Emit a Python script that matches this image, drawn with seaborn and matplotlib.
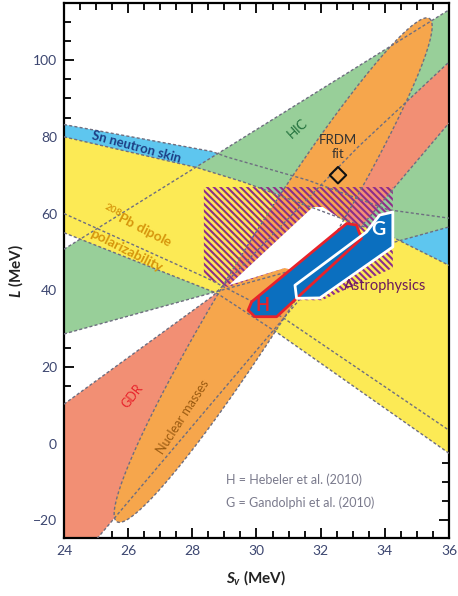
import numpy as np
import matplotlib
matplotlib.use("Agg")
import matplotlib.pyplot as plt
from matplotlib.ticker import MultipleLocator
import seaborn as sns

# Constraint bands in the (S_v, L) plane, MeV.
# Each band is an upper and a lower edge given as knots along S_v.
SN_UPPER_S = [24.0, 28.6, 29.1, 31.6, 34.1, 36.0]
SN_UPPER_L = [83.2, 76.2, 74.7, 68.7, 61.0, 58.8]
SN_LOWER_S = [24.0, 28.45, 30.8, 36.0]
SN_LOWER_L = [60.0, 43.2, 33.0, 3.5]

PB_UPPER_S = [24.0, 28.14, 29.6, 34.3, 36.0]
PB_UPPER_L = [80.0, 72.0, 68.2, 53.6, 46.5]
PB_LOWER_S = [24.0, 28.77, 30.67, 36.0]
PB_LOWER_L = [55.0, 39.2, 28.8, -2.5]

HIC_UPPER_S = [24.0, 36.0]
HIC_UPPER_L = [50.7, 113.1]
HIC_LOWER_S = [24.0, 36.0]
HIC_LOWER_L = [28.6, 56.5]

GDR_UPPER_S = [24.0, 28.64, 33.16, 36.0]
GDR_UPPER_L = [10.3, 38.5, 77.3, 99.5]
GDR_LOWER_S = [24.0, 24.5, 36.0]
GDR_LOWER_L = [-30.0, -30.0, 83.6]

# nuclear masses: ellipse centre and the two half axes (S_v, L)
MASS_CENTER = [30.52, 45.25]
MASS_MAJOR = [4.87, 65.6]
MASS_MINOR = [0.92, -4.8]

# astrophysics (hatched) and the white overlap region
ASTRO_S = [28.36, 34.25, 34.25, 32.04, 31.23, 31.13, 30.88, 29.11, 28.36]
ASTRO_L = [66.9, 66.9, 45.8, 37.4, 37.4, 45.2, 45.8, 40.8, 43.4]
WHITE_S = [29.14, 31.76, 32.07, 32.82, 31.13, 30.88]
WHITE_L = [41.3, 61.7, 61.7, 57.5, 45.2, 45.8]

# neutron matter: H = Hebeler, G = Gandolfi
H_S = [29.74, 29.95, 30.63, 33.27, 33.12, 32.81, 29.85]
H_L = [34.8, 33.1, 33.1, 53.5, 57.0, 57.4, 37.0]
G_S = [31.25, 31.20, 33.43, 33.84, 34.25, 34.25, 31.98]
G_L = [37.9, 41.3, 55.2, 59.6, 60.4, 51.3, 38.0]

FRDM_S = [32.54]
FRDM_L = [70.0]

X_TICKS = [24, 26, 28, 30, 32, 34, 36]
Y_TICKS = [-20, 0, 20, 40, 60, 80, 100]

C_BLUE = "#5ec6ef"
C_YELLOW = "#fcea55"
C_GREEN = "#98cf99"
C_SALMON = "#f28f74"
C_ORANGE = "#f6a64c"
C_HG = "#0b6fbf"
C_HATCH = "#8d2c8c"
C_DASH = "#6e6e80"
C_TICKLAB = "#3c4670"

sns.set_theme(style="ticks")
plt.rcParams["font.family"] = ["Lato", "DejaVu Sans"]
plt.rcParams["hatch.linewidth"] = 1.5
plt.rcParams["mathtext.fontset"] = "custom"
plt.rcParams["mathtext.it"] = "Lato:bold:italic"
plt.rcParams["mathtext.rm"] = "Lato:bold"
plt.rcParams["axes.linewidth"] = 1.6

fig = plt.figure(figsize=(4.58, 5.96), dpi=100)
ax = fig.add_axes([0.1397, 0.0973, 0.8406, 0.8977])


def band_polygon(up_s, up_l, lo_s, lo_l):
    xs = list(up_s) + list(lo_s)[::-1]
    ys = list(up_l) + list(lo_l)[::-1]
    return xs, ys


def dashed(xs, ys, z=6):
    sns.lineplot(x=xs, y=ys, ax=ax, sort=False, estimator=None,
                 color=C_DASH, linewidth=1.0, linestyle=(0, (2.2, 1.6)),
                 zorder=z)


# fills, bottom to top
xs, ys = band_polygon(SN_UPPER_S, SN_UPPER_L, SN_LOWER_S, SN_LOWER_L)
ax.fill(xs, ys, color=C_BLUE, lw=0, zorder=1)
xs, ys = band_polygon(HIC_UPPER_S, HIC_UPPER_L, HIC_LOWER_S, HIC_LOWER_L)
ax.fill(xs, ys, color=C_GREEN, lw=0, zorder=1.1)
xs, ys = band_polygon(GDR_UPPER_S, GDR_UPPER_L, GDR_LOWER_S, GDR_LOWER_L)
ax.fill(xs, ys, color=C_SALMON, lw=0, zorder=1.2)
xs, ys = band_polygon(PB_UPPER_S, PB_UPPER_L, PB_LOWER_S, PB_LOWER_L)
ax.fill(xs, ys, color=C_YELLOW, lw=0, zorder=1.3)

# outline of the nuclear-mass ellipse from its centre and half axes
t = np.linspace(0, 2 * np.pi, 200)
ell_s = MASS_CENTER[0] + MASS_MAJOR[0] * np.cos(t) + MASS_MINOR[0] * np.sin(t)
ell_l = MASS_CENTER[1] + MASS_MAJOR[1] * np.cos(t) + MASS_MINOR[1] * np.sin(t)
ax.fill(ell_s, ell_l, color=C_ORANGE, lw=0, zorder=1.4)

ax.fill(ASTRO_S, ASTRO_L, facecolor="none", edgecolor=C_HATCH, lw=0,
        hatch="\\\\\\\\\\", zorder=2)
ax.fill(WHITE_S, WHITE_L, color="white", lw=0, zorder=3)

# dashed constraint edges
for s, l in [(SN_UPPER_S, SN_UPPER_L), (SN_LOWER_S, SN_LOWER_L),
             (PB_UPPER_S, PB_UPPER_L), (PB_LOWER_S, PB_LOWER_L),
             (HIC_UPPER_S, HIC_UPPER_L), (HIC_LOWER_S, HIC_LOWER_L),
             (GDR_UPPER_S, GDR_UPPER_L), (GDR_LOWER_S[1:], GDR_LOWER_L[1:])]:
    dashed(s, l)
dashed(ell_s, ell_l)

# neutron matter boxes
ax.fill(G_S, G_L, color=C_HG, lw=0, zorder=7)
ax.fill(H_S, H_L, color=C_HG, lw=0, zorder=7)
ax.fill(H_S, H_L, facecolor="none", edgecolor="#e8222b", lw=2.0,
        joinstyle="round", zorder=8)
ax.fill(G_S, G_L, facecolor="none", edgecolor="white", lw=2.0,
        joinstyle="round", zorder=8)

sns.scatterplot(x=FRDM_S, y=FRDM_L, ax=ax, marker="D", s=70,
                color="none", edgecolor="#111111", linewidth=1.5, zorder=9)

# labels on the bands
ax.text(26.24, 77.4, "Sn neutron skin", color="#1d3f85", fontsize=9.5,
        fontweight="bold", rotation=-15, ha="center", va="center", zorder=10)
ax.text(26.3, 56.6, r"$^{208}$Pb dipole", color="#d6960c", fontsize=10,
        fontweight="bold", rotation=-27, ha="center", va="center", zorder=10)
ax.text(25.95, 50.4, "polarizability", color="#d6960c", fontsize=10,
        fontweight="bold", rotation=-27, ha="center", va="center", zorder=10)
ax.text(31.29, 82.3, "HIC", color="#1f6e3a", fontsize=9.5,
        rotation=42, ha="center", va="center", zorder=10)
ax.text(32.54, 79.1, "FRDM", color="#333333", fontsize=9.5,
        ha="center", va="center", zorder=10)
ax.text(32.54, 75.4, "fit", color="#333333", fontsize=9.5,
        ha="center", va="center", zorder=10)
ax.text(34.0, 41.1, "Astrophysics", color="#6d1b5c", fontsize=10.5,
        ha="center", va="center", zorder=10)
ax.text(26.12, 12.4, "GDR", color="#e8242c", fontsize=9,
        rotation=52, ha="center", va="center", zorder=10)
ax.text(27.7, 6.9, "Nuclear masses", color="#9a5a10", fontsize=9,
        rotation=57, ha="center", va="center", zorder=10)
ax.text(30.2, 36.0, "H", color="#e8222b", fontsize=13, fontweight="bold",
        ha="center", va="center", zorder=10)
ax.text(33.81, 55.9, "G", color="white", fontsize=14, fontweight="bold",
        ha="center", va="center", zorder=10)
ax.text(29.05, -9.5, "H = Hebeler et al. (2010)", color="#7a7a8c",
        fontsize=9, ha="left", va="center", zorder=10)
ax.text(29.05, -15.3, "G = Gandolphi et al. (2010)", color="#7a7a8c",
        fontsize=9, ha="left", va="center", zorder=10)

# axes
ax.set_xlim(24, 36)
ax.set_ylim(-24.6, 114.9)
ax.set_xticks(X_TICKS)
ax.set_yticks(Y_TICKS)
ax.xaxis.set_minor_locator(MultipleLocator(0.5))
ax.yaxis.set_minor_locator(MultipleLocator(5))
ax.tick_params(which="both", direction="in", top=True, right=True,
               width=1.3, color="black", labelcolor=C_TICKLAB, labelsize=10)
ax.tick_params(which="major", length=7, pad=5)
ax.tick_params(which="minor", length=5)
for sp in ax.spines.values():
    sp.set_color("black")
    sp.set_linewidth(1.6)
ax.set_xlabel(r"$S_v$ (MeV)", fontsize=11, fontweight="bold", color="#222222",
              labelpad=8)
ax.set_ylabel(r"$L$ (MeV)", fontsize=11, fontweight="bold", color="#222222",
              labelpad=6)

fig.savefig("out.png", dpi=100)
